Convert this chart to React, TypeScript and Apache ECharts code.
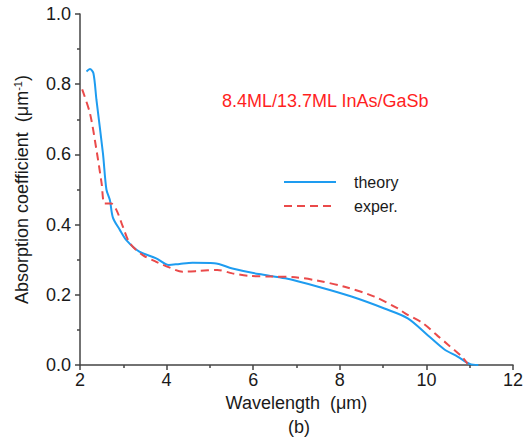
import React, { useEffect, useRef } from "react";
import * as echarts from "echarts";

const theoryX = [2.15, 2.23, 2.31, 2.38, 2.53, 2.61, 2.69, 2.76, 2.92, 3.07, 3.37, 3.76, 4.05, 4.3, 4.6, 5.1, 5.52, 6.13, 6.74, 7.5, 8.27, 9.03, 9.57, 10.03, 10.41, 10.72, 11.0, 11.2];
const theoryY = [0.836, 0.843, 0.831, 0.755, 0.603, 0.5, 0.47, 0.42, 0.385, 0.356, 0.323, 0.304, 0.285, 0.288, 0.291, 0.29, 0.275, 0.259, 0.247, 0.223, 0.195, 0.161, 0.133, 0.085, 0.045, 0.024, 0.003, 0.0];

const experX = [2.05, 2.23, 2.38, 2.5, 2.57, 2.72, 2.84, 2.99, 3.15, 3.45, 3.76, 4.06, 4.37, 4.75, 5.17, 5.52, 5.9, 6.43, 6.97, 7.5, 8.11, 8.8, 9.34, 9.51, 9.92, 10.26, 10.5, 10.8, 10.95];
const experY = [0.785, 0.717, 0.613, 0.517, 0.46, 0.46, 0.442, 0.394, 0.347, 0.313, 0.294, 0.278, 0.266, 0.268, 0.271, 0.261, 0.254, 0.252, 0.25, 0.24, 0.223, 0.195, 0.161, 0.147, 0.119, 0.083, 0.058, 0.026, 0.004];

const seriesNames = ["theory", "exper."];
const titleText = "8.4ML/13.7ML InAs/GaSb";
const xName = "Wavelength  (μm)";
const captionText = "(b)";

const FONT = "'Liberation Sans', Arial, sans-serif";
const TEXT = "#1a1a1a";

export default function App() {
  const ref = useRef<HTMLDivElement>(null);
  useEffect(() => {
    if (!ref.current) return;
    const chart = echarts.init(ref.current, undefined, { renderer: "svg" });
    const axisLine = { show: true, lineStyle: { color: "#444", width: 1.5 } };
    chart.setOption({
      animation: false,
      backgroundColor: "#ffffff",
      textStyle: { fontFamily: FONT },
      title: {
        text: titleText,
        left: 222,
        top: 92,
        padding: 0,
        textStyle: { color: "#ff1f1f", fontSize: 18, fontWeight: "normal", fontFamily: FONT },
      },
      legend: {
        orient: "vertical",
        left: 283,
        top: 174,
        padding: 0,
        itemWidth: 52,
        itemHeight: 14,
        itemGap: 8,
        itemStyle: { color: "transparent", borderWidth: 0, opacity: 0 },
        data: seriesNames,
        textStyle: { color: TEXT, fontSize: 16, fontFamily: FONT, padding: [0, 0, 0, 13] },
      },
      grid: { left: 80, right: 10, top: 14, bottom: 78 },
      xAxis: {
        type: "value",
        min: 2,
        max: 12,
        interval: 2,
        name: xName,
        nameLocation: "middle",
        nameGap: 29,
        nameTextStyle: { color: TEXT, fontSize: 18, fontFamily: FONT },
        axisLine,
        axisTick: { show: true, length: 5, lineStyle: { color: "#444", width: 1.5 } },
        minorTick: { show: true, splitNumber: 2, length: 3, lineStyle: { color: "#444", width: 1.5 } },
        splitLine: { show: false },
        axisLabel: { color: TEXT, fontSize: 18, margin: 6, fontFamily: FONT },
      },
      yAxis: {
        type: "value",
        min: 0,
        max: 1,
        interval: 0.2,
        name: "{a|Absorption coefficient  (μm}{s|-1}{a|)}",
        nameLocation: "middle",
        nameRotate: 90,
        nameGap: 48,
        nameTextStyle: {
          color: TEXT,
          fontSize: 18,
          fontFamily: FONT,
          rich: {
            a: { fontSize: 18, color: TEXT, fontFamily: FONT, lineHeight: 20 },
            s: { fontSize: 11, color: TEXT, fontFamily: FONT, verticalAlign: "top", lineHeight: 20, padding: [0, 0, 8, 0] },
          },
        },
        axisLine,
        axisTick: { show: true, length: 5, lineStyle: { color: "#444", width: 1.5 } },
        minorTick: { show: true, splitNumber: 2, length: 3, lineStyle: { color: "#444", width: 1.5 } },
        splitLine: { show: false },
        axisLabel: {
          color: TEXT,
          fontSize: 18,
          margin: 9,
          fontFamily: FONT,
          formatter: (v: number) => v.toFixed(1),
        },
      },
      graphic: [
        {
          type: "text",
          left: 288,
          top: 418,
          style: { text: captionText, fill: TEXT, fontSize: 18, fontFamily: FONT },
        },
      ],
      series: [
        {
          name: seriesNames[0],
          type: "line",
          showSymbol: false,
          symbol: "none",
          smooth: 0.3,
          data: theoryX.map((x, i) => [x, theoryY[i]]),
          lineStyle: { color: "#1e9cf0", width: 2 },
          itemStyle: { color: "#1e9cf0" },
        },
        {
          name: seriesNames[1],
          type: "line",
          showSymbol: false,
          symbol: "none",
          smooth: 0.3,
          data: experX.map((x, i) => [x, experY[i]]),
          lineStyle: { color: "#ea4a4a", width: 2, type: [8, 5] },
          itemStyle: { color: "#ea4a4a" },
        },
      ],
    });
    return () => chart.dispose();
  }, []);
  return <div ref={ref} style={{ width: 526, height: 443, position: "absolute", left: 0, top: 0 }} />;
}
